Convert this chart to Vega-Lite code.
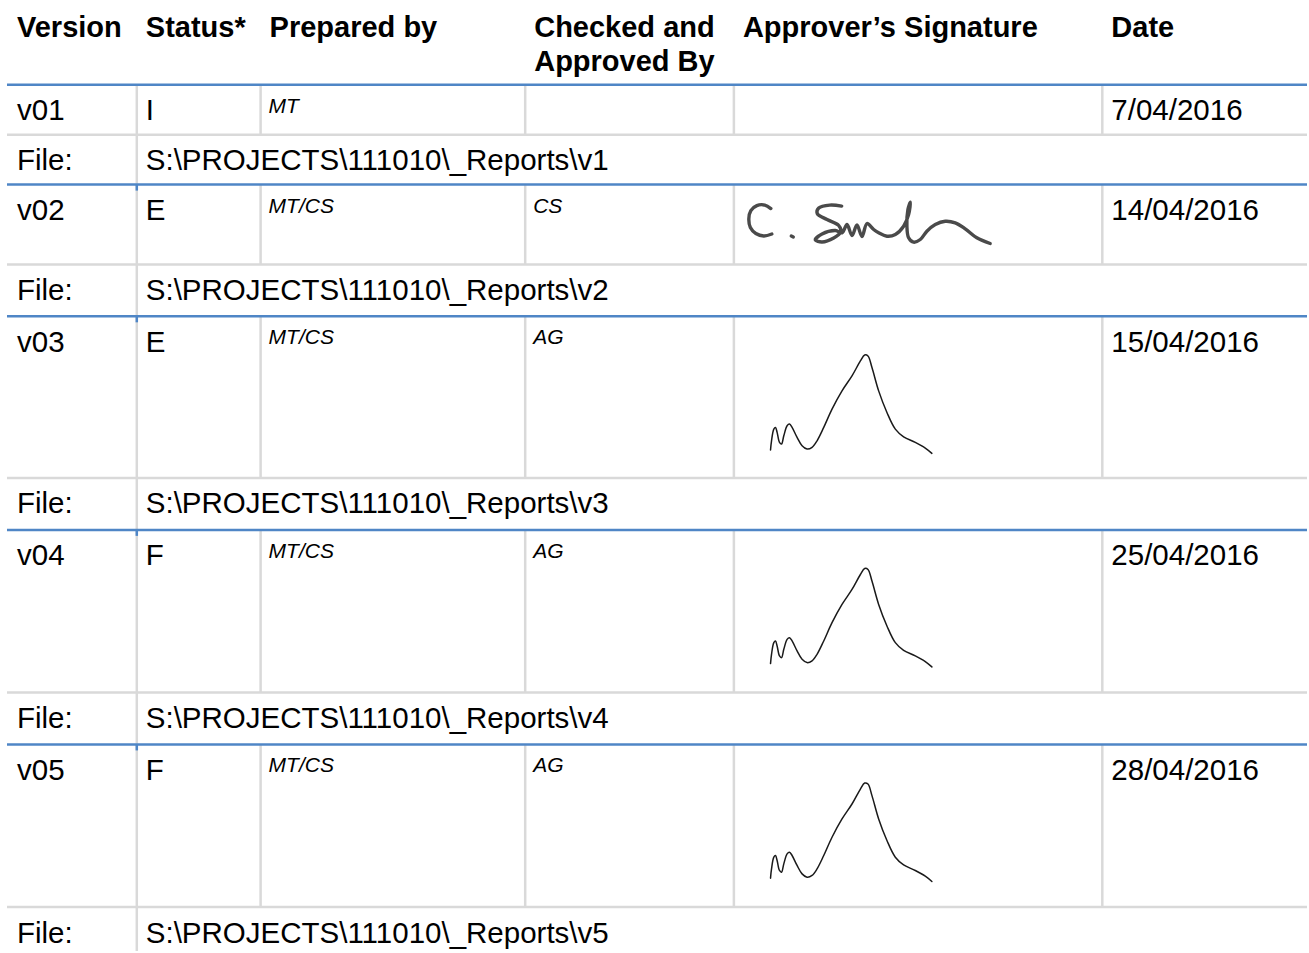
{
  "$schema": "https://vega.github.io/schema/vega-lite/v6.json",
  "width": 1309,
  "height": 953,
  "autosize": {"type": "fit", "contains": "padding"},
  "padding": 0,
  "background": "white",
  "config": {"view": {"stroke": null}, "text": {"font": "Liberation Sans", "color": "#000000"}},
  "datasets": {
    "rows": [
      {"row": "header", "kind": "header", "y0": 0, "y1": 85},
      {"row": "v01", "kind": "version", "y0": 85, "y1": 135},
      {"row": "f1", "kind": "file", "y0": 135, "y1": 185},
      {"row": "v02", "kind": "version", "y0": 185, "y1": 265},
      {"row": "f2", "kind": "file", "y0": 265, "y1": 317},
      {"row": "v03", "kind": "version", "y0": 317, "y1": 479},
      {"row": "f3", "kind": "file", "y0": 479, "y1": 531},
      {"row": "v04", "kind": "version", "y0": 531, "y1": 694},
      {"row": "f4", "kind": "file", "y0": 694, "y1": 746},
      {"row": "v05", "kind": "version", "y0": 746, "y1": 909},
      {"row": "f5", "kind": "file", "y0": 909, "y1": 953}
    ],
    "columns": [
      {"col": "Version", "x0": 8},
      {"col": "Status", "x0": 137},
      {"col": "Prepared", "x0": 261},
      {"col": "Checked", "x0": 526},
      {"col": "Signature", "x0": 735},
      {"col": "Date", "x0": 1104}
    ],
    "vlines": [
      {"row": "v01", "x": 137}, {"row": "v01", "x": 261}, {"row": "v01", "x": 526}, {"row": "v01", "x": 735}, {"row": "v01", "x": 1104},
      {"row": "v02", "x": 137}, {"row": "v02", "x": 261}, {"row": "v02", "x": 526}, {"row": "v02", "x": 735}, {"row": "v02", "x": 1104},
      {"row": "v03", "x": 137}, {"row": "v03", "x": 261}, {"row": "v03", "x": 526}, {"row": "v03", "x": 735}, {"row": "v03", "x": 1104},
      {"row": "v04", "x": 137}, {"row": "v04", "x": 261}, {"row": "v04", "x": 526}, {"row": "v04", "x": 735}, {"row": "v04", "x": 1104},
      {"row": "v05", "x": 137}, {"row": "v05", "x": 261}, {"row": "v05", "x": 526}, {"row": "v05", "x": 735}, {"row": "v05", "x": 1104},
      {"row": "f1", "x": 137}, {"row": "f2", "x": 137}, {"row": "f3", "x": 137}, {"row": "f4", "x": 137}, {"row": "f5", "x": 137}
    ],
    "ticks": [
      {"x": 137, "y": 185, "y2": 191},
      {"x": 137, "y": 317, "y2": 323},
      {"x": 137, "y": 531, "y2": 537},
      {"x": 137, "y": 746, "y2": 752}
    ],
    "cells": [
      {"row": "header", "col": "Version", "kind": "heading", "text": "Version"},
      {"row": "header", "col": "Status", "kind": "heading", "text": "Status*"},
      {"row": "header", "col": "Prepared", "kind": "heading", "text": "Prepared by"},
      {"row": "header", "col": "Checked", "kind": "heading", "text": "Checked and\nApproved By"},
      {"row": "header", "col": "Signature", "kind": "heading", "text": "Approver’s Signature"},
      {"row": "header", "col": "Date", "kind": "heading", "text": "Date"},
      {"row": "v01", "col": "Version", "kind": "value", "text": "v01"},
      {"row": "v01", "col": "Status", "kind": "value", "text": "I"},
      {"row": "v01", "col": "Prepared", "kind": "initials", "text": "MT"},
      {"row": "v01", "col": "Date", "kind": "value", "text": "7/04/2016"},
      {"row": "f1", "col": "Version", "kind": "value", "text": "File:"},
      {"row": "f1", "col": "Status", "kind": "value", "text": "S:\\PROJECTS\\111010\\_Reports\\v1"},
      {"row": "v02", "col": "Version", "kind": "value", "text": "v02"},
      {"row": "v02", "col": "Status", "kind": "value", "text": "E"},
      {"row": "v02", "col": "Prepared", "kind": "initials", "text": "MT/CS"},
      {"row": "v02", "col": "Checked", "kind": "initials", "text": "CS"},
      {"row": "v02", "col": "Date", "kind": "value", "text": "14/04/2016"},
      {"row": "f2", "col": "Version", "kind": "value", "text": "File:"},
      {"row": "f2", "col": "Status", "kind": "value", "text": "S:\\PROJECTS\\111010\\_Reports\\v2"},
      {"row": "v03", "col": "Version", "kind": "value", "text": "v03"},
      {"row": "v03", "col": "Status", "kind": "value", "text": "E"},
      {"row": "v03", "col": "Prepared", "kind": "initials", "text": "MT/CS"},
      {"row": "v03", "col": "Checked", "kind": "initials", "text": "AG"},
      {"row": "v03", "col": "Date", "kind": "value", "text": "15/04/2016"},
      {"row": "f3", "col": "Version", "kind": "value", "text": "File:"},
      {"row": "f3", "col": "Status", "kind": "value", "text": "S:\\PROJECTS\\111010\\_Reports\\v3"},
      {"row": "v04", "col": "Version", "kind": "value", "text": "v04"},
      {"row": "v04", "col": "Status", "kind": "value", "text": "F"},
      {"row": "v04", "col": "Prepared", "kind": "initials", "text": "MT/CS"},
      {"row": "v04", "col": "Checked", "kind": "initials", "text": "AG"},
      {"row": "v04", "col": "Date", "kind": "value", "text": "25/04/2016"},
      {"row": "f4", "col": "Version", "kind": "value", "text": "File:"},
      {"row": "f4", "col": "Status", "kind": "value", "text": "S:\\PROJECTS\\111010\\_Reports\\v4"},
      {"row": "v05", "col": "Version", "kind": "value", "text": "v05"},
      {"row": "v05", "col": "Status", "kind": "value", "text": "F"},
      {"row": "v05", "col": "Prepared", "kind": "initials", "text": "MT/CS"},
      {"row": "v05", "col": "Checked", "kind": "initials", "text": "AG"},
      {"row": "v05", "col": "Date", "kind": "value", "text": "28/04/2016"},
      {"row": "f5", "col": "Version", "kind": "value", "text": "File:"},
      {"row": "f5", "col": "Status", "kind": "value", "text": "S:\\PROJECTS\\111010\\_Reports\\v5"}
    ],
    "sig_cs": [
      {"s": "C", "i": 0, "x": 772, "y": 209}, {"s": "C", "i": 1, "x": 766, "y": 205.5}, {"s": "C", "i": 2, "x": 758, "y": 206},
      {"s": "C", "i": 3, "x": 752, "y": 211}, {"s": "C", "i": 4, "x": 750, "y": 219}, {"s": "C", "i": 5, "x": 751.5, "y": 228},
      {"s": "C", "i": 6, "x": 757, "y": 234}, {"s": "C", "i": 7, "x": 765, "y": 236.5}, {"s": "C", "i": 8, "x": 773, "y": 234.5},
      {"s": "dot", "i": 0, "x": 792.5, "y": 236.5}, {"s": "dot", "i": 1, "x": 794.5, "y": 237.5},
      {"s": "S", "i": 0, "x": 843, "y": 206.5}, {"s": "S", "i": 1, "x": 831, "y": 205.5}, {"s": "S", "i": 2, "x": 820, "y": 208.5},
      {"s": "S", "i": 3, "x": 818.5, "y": 214}, {"s": "S", "i": 4, "x": 828.3, "y": 220}, {"s": "S", "i": 5, "x": 840, "y": 226},
      {"s": "S", "i": 6, "x": 842, "y": 232.5}, {"s": "S", "i": 7, "x": 835, "y": 238.5}, {"s": "S", "i": 8, "x": 823.3, "y": 242.5},
      {"s": "S", "i": 9, "x": 816.5, "y": 240.5}, {"s": "S", "i": 10, "x": 823.3, "y": 234.5}, {"s": "S", "i": 11, "x": 836.7, "y": 231},
      {"s": "S", "i": 12, "x": 843.3, "y": 233.3}, {"s": "S", "i": 13, "x": 848.3, "y": 225}, {"s": "S", "i": 14, "x": 853.3, "y": 236},
      {"s": "S", "i": 15, "x": 858.3, "y": 225.5}, {"s": "S", "i": 16, "x": 863.3, "y": 237}, {"s": "S", "i": 17, "x": 868.3, "y": 224},
      {"s": "S", "i": 18, "x": 875, "y": 230}, {"s": "S", "i": 19, "x": 880, "y": 233.3}, {"s": "S", "i": 20, "x": 888.3, "y": 236.7},
      {"s": "S", "i": 21, "x": 896.7, "y": 235}, {"s": "S", "i": 22, "x": 905, "y": 226.7}, {"s": "S", "i": 23, "x": 910, "y": 215},
      {"s": "S", "i": 24, "x": 911.7, "y": 202.7}, {"s": "S", "i": 25, "x": 909.3, "y": 210}, {"s": "S", "i": 26, "x": 908.3, "y": 226.7},
      {"s": "S", "i": 27, "x": 910, "y": 238.3}, {"s": "S", "i": 28, "x": 915, "y": 242.7}, {"s": "S", "i": 29, "x": 921.7, "y": 240},
      {"s": "S", "i": 30, "x": 928.3, "y": 231.7}, {"s": "S", "i": 31, "x": 936.7, "y": 225}, {"s": "S", "i": 32, "x": 946.7, "y": 221.7},
      {"s": "S", "i": 33, "x": 956.7, "y": 223.3}, {"s": "S", "i": 34, "x": 966.7, "y": 229.3}, {"s": "S", "i": 35, "x": 978.3, "y": 238.3},
      {"s": "S", "i": 36, "x": 991.7, "y": 244}
    ],
    "sig_ag": [
      {"s": "v03", "i": 0, "x": 771.7, "y": 451}, {"s": "v03", "i": 1, "x": 772.7, "y": 441.7}, {"s": "v03", "i": 2, "x": 775, "y": 430},
      {"s": "v03", "i": 3, "x": 776.7, "y": 428.3}, {"s": "v03", "i": 4, "x": 778.3, "y": 433.3}, {"s": "v03", "i": 5, "x": 780.7, "y": 443.3},
      {"s": "v03", "i": 6, "x": 782.7, "y": 445}, {"s": "v03", "i": 7, "x": 785, "y": 436.7}, {"s": "v03", "i": 8, "x": 788.3, "y": 426.7},
      {"s": "v03", "i": 9, "x": 790.7, "y": 425}, {"s": "v03", "i": 10, "x": 793.3, "y": 428.3}, {"s": "v03", "i": 11, "x": 798.3, "y": 438.3},
      {"s": "v03", "i": 12, "x": 803.3, "y": 446.7}, {"s": "v03", "i": 13, "x": 808.3, "y": 450}, {"s": "v03", "i": 14, "x": 813.3, "y": 448.3},
      {"s": "v03", "i": 15, "x": 818.3, "y": 441.7}, {"s": "v03", "i": 16, "x": 825, "y": 428.3}, {"s": "v03", "i": 17, "x": 833.3, "y": 410},
      {"s": "v03", "i": 18, "x": 843.3, "y": 391.7}, {"s": "v03", "i": 19, "x": 853.3, "y": 376.7}, {"s": "v03", "i": 20, "x": 861.7, "y": 361.7},
      {"s": "v03", "i": 21, "x": 866, "y": 355.7}, {"s": "v03", "i": 22, "x": 869.3, "y": 356.7}, {"s": "v03", "i": 23, "x": 873.3, "y": 368.3},
      {"s": "v03", "i": 24, "x": 880, "y": 391.7}, {"s": "v03", "i": 25, "x": 888.3, "y": 413.3}, {"s": "v03", "i": 26, "x": 896.7, "y": 430},
      {"s": "v03", "i": 27, "x": 905, "y": 437.7}, {"s": "v03", "i": 28, "x": 916.7, "y": 443.3}, {"s": "v03", "i": 29, "x": 926.7, "y": 449},
      {"s": "v03", "i": 30, "x": 933.3, "y": 454.3},
      {"s": "v04", "i": 0, "x": 771.7, "y": 665}, {"s": "v04", "i": 1, "x": 772.7, "y": 655.7}, {"s": "v04", "i": 2, "x": 775, "y": 644},
      {"s": "v04", "i": 3, "x": 776.7, "y": 642.3}, {"s": "v04", "i": 4, "x": 778.3, "y": 647.3}, {"s": "v04", "i": 5, "x": 780.7, "y": 657.3},
      {"s": "v04", "i": 6, "x": 782.7, "y": 659}, {"s": "v04", "i": 7, "x": 785, "y": 650.7}, {"s": "v04", "i": 8, "x": 788.3, "y": 640.7},
      {"s": "v04", "i": 9, "x": 790.7, "y": 639}, {"s": "v04", "i": 10, "x": 793.3, "y": 642.3}, {"s": "v04", "i": 11, "x": 798.3, "y": 652.3},
      {"s": "v04", "i": 12, "x": 803.3, "y": 660.7}, {"s": "v04", "i": 13, "x": 808.3, "y": 664}, {"s": "v04", "i": 14, "x": 813.3, "y": 662.3},
      {"s": "v04", "i": 15, "x": 818.3, "y": 655.7}, {"s": "v04", "i": 16, "x": 825, "y": 642.3}, {"s": "v04", "i": 17, "x": 833.3, "y": 624},
      {"s": "v04", "i": 18, "x": 843.3, "y": 605.7}, {"s": "v04", "i": 19, "x": 853.3, "y": 590.7}, {"s": "v04", "i": 20, "x": 861.7, "y": 575.7},
      {"s": "v04", "i": 21, "x": 866, "y": 569.7}, {"s": "v04", "i": 22, "x": 869.3, "y": 570.7}, {"s": "v04", "i": 23, "x": 873.3, "y": 582.3},
      {"s": "v04", "i": 24, "x": 880, "y": 605.7}, {"s": "v04", "i": 25, "x": 888.3, "y": 627.3}, {"s": "v04", "i": 26, "x": 896.7, "y": 644},
      {"s": "v04", "i": 27, "x": 905, "y": 651.7}, {"s": "v04", "i": 28, "x": 916.7, "y": 657.3}, {"s": "v04", "i": 29, "x": 926.7, "y": 663},
      {"s": "v04", "i": 30, "x": 933.3, "y": 668.3},
      {"s": "v05", "i": 0, "x": 771.7, "y": 880}, {"s": "v05", "i": 1, "x": 772.7, "y": 870.7}, {"s": "v05", "i": 2, "x": 775, "y": 859},
      {"s": "v05", "i": 3, "x": 776.7, "y": 857.3}, {"s": "v05", "i": 4, "x": 778.3, "y": 862.3}, {"s": "v05", "i": 5, "x": 780.7, "y": 872.3},
      {"s": "v05", "i": 6, "x": 782.7, "y": 874}, {"s": "v05", "i": 7, "x": 785, "y": 865.7}, {"s": "v05", "i": 8, "x": 788.3, "y": 855.7},
      {"s": "v05", "i": 9, "x": 790.7, "y": 854}, {"s": "v05", "i": 10, "x": 793.3, "y": 857.3}, {"s": "v05", "i": 11, "x": 798.3, "y": 867.3},
      {"s": "v05", "i": 12, "x": 803.3, "y": 875.7}, {"s": "v05", "i": 13, "x": 808.3, "y": 879}, {"s": "v05", "i": 14, "x": 813.3, "y": 877.3},
      {"s": "v05", "i": 15, "x": 818.3, "y": 870.7}, {"s": "v05", "i": 16, "x": 825, "y": 857.3}, {"s": "v05", "i": 17, "x": 833.3, "y": 839},
      {"s": "v05", "i": 18, "x": 843.3, "y": 820.7}, {"s": "v05", "i": 19, "x": 853.3, "y": 805.7}, {"s": "v05", "i": 20, "x": 861.7, "y": 790.7},
      {"s": "v05", "i": 21, "x": 866, "y": 784.7}, {"s": "v05", "i": 22, "x": 869.3, "y": 785.7}, {"s": "v05", "i": 23, "x": 873.3, "y": 797.3},
      {"s": "v05", "i": 24, "x": 880, "y": 820.7}, {"s": "v05", "i": 25, "x": 888.3, "y": 842.3}, {"s": "v05", "i": 26, "x": 896.7, "y": 859},
      {"s": "v05", "i": 27, "x": 905, "y": 866.7}, {"s": "v05", "i": 28, "x": 916.7, "y": 872.3}, {"s": "v05", "i": 29, "x": 926.7, "y": 878},
      {"s": "v05", "i": 30, "x": 933.3, "y": 883.3}
    ]
  },
  "layer": [
    {
      "data": {"name": "vlines"},
      "transform": [
        {"lookup": "row", "from": {"data": {"name": "rows"}, "key": "row", "fields": ["y0", "y1"]}}
      ],
      "mark": {"type": "rule", "color": "#d9d9d9", "strokeWidth": 2.5},
      "encoding": {
        "x": {"field": "x", "type": "quantitative", "scale": {"domain": [0, 1309], "nice": false, "zero": false}, "axis": null},
        "y": {"field": "y0", "type": "quantitative", "scale": {"domain": [0, 953], "nice": false, "zero": false, "reverse": true}, "axis": null},
        "y2": {"field": "y1"}
      }
    },
    {
      "data": {"name": "ticks"},
      "mark": {"type": "rule", "color": "#4f86c6", "strokeWidth": 2.5},
      "encoding": {
        "x": {"field": "x", "type": "quantitative", "scale": {"domain": [0, 1309], "nice": false, "zero": false}, "axis": null},
        "y": {"field": "y", "type": "quantitative", "scale": {"domain": [0, 953], "nice": false, "zero": false, "reverse": true}, "axis": null},
        "y2": {"field": "y2"}
      }
    },
    {
      "data": {"name": "rows"},
      "transform": [{"filter": "datum.kind !== 'header'"}],
      "mark": {"type": "rule", "strokeWidth": 2.5},
      "encoding": {
        "x": {"datum": 7, "type": "quantitative", "scale": {"domain": [0, 1309], "nice": false, "zero": false}, "axis": null},
        "x2": {"datum": 1309},
        "y": {"field": "y0", "type": "quantitative", "scale": {"domain": [0, 953], "nice": false, "zero": false, "reverse": true}, "axis": null},
        "color": {"field": "kind", "type": "nominal", "scale": {"domain": ["version", "file"], "range": ["#4f86c6", "#d9d9d9"]}, "legend": null}
      }
    },
    {
      "data": {"name": "cells"},
      "transform": [
        {"filter": "datum.kind === 'heading'"},
        {"lookup": "col", "from": {"data": {"name": "columns"}, "key": "col", "fields": ["x0"]}},
        {"lookup": "row", "from": {"data": {"name": "rows"}, "key": "row", "fields": ["y0"]}}
      ],
      "mark": {"type": "text", "align": "left", "baseline": "alphabetic", "fontSize": 29, "fontWeight": "bold", "dx": 9, "dy": 37, "lineBreak": "\n", "lineHeight": 34},
      "encoding": {
        "x": {"field": "x0", "type": "quantitative", "scale": {"domain": [0, 1309], "nice": false, "zero": false}, "axis": null},
        "y": {"field": "y0", "type": "quantitative", "scale": {"domain": [0, 953], "nice": false, "zero": false, "reverse": true}, "axis": null},
        "text": {"field": "text", "type": "nominal"}
      }
    },
    {
      "data": {"name": "cells"},
      "transform": [
        {"filter": "datum.kind === 'value'"},
        {"lookup": "col", "from": {"data": {"name": "columns"}, "key": "col", "fields": ["x0"]}},
        {"lookup": "row", "from": {"data": {"name": "rows"}, "key": "row", "fields": ["y0"]}}
      ],
      "mark": {"type": "text", "align": "left", "baseline": "alphabetic", "fontSize": 29.5, "dx": 9, "dy": 35.5},
      "encoding": {
        "x": {"field": "x0", "type": "quantitative", "scale": {"domain": [0, 1309], "nice": false, "zero": false}, "axis": null},
        "y": {"field": "y0", "type": "quantitative", "scale": {"domain": [0, 953], "nice": false, "zero": false, "reverse": true}, "axis": null},
        "text": {"field": "text", "type": "nominal"}
      }
    },
    {
      "data": {"name": "cells"},
      "transform": [
        {"filter": "datum.kind === 'initials'"},
        {"lookup": "col", "from": {"data": {"name": "columns"}, "key": "col", "fields": ["x0"]}},
        {"lookup": "row", "from": {"data": {"name": "rows"}, "key": "row", "fields": ["y0"]}}
      ],
      "mark": {"type": "text", "align": "left", "baseline": "alphabetic", "fontSize": 21, "fontStyle": "italic", "dx": 8, "dy": 28},
      "encoding": {
        "x": {"field": "x0", "type": "quantitative", "scale": {"domain": [0, 1309], "nice": false, "zero": false}, "axis": null},
        "y": {"field": "y0", "type": "quantitative", "scale": {"domain": [0, 953], "nice": false, "zero": false, "reverse": true}, "axis": null},
        "text": {"field": "text", "type": "nominal"}
      }
    },
    {
      "data": {"name": "sig_cs"},
      "mark": {"type": "line", "interpolate": "catmull-rom", "color": "#4a4a4a", "strokeWidth": 3.4, "strokeCap": "round", "strokeJoin": "round"},
      "encoding": {
        "x": {"field": "x", "type": "quantitative", "scale": {"domain": [0, 1309], "nice": false, "zero": false}, "axis": null},
        "y": {"field": "y", "type": "quantitative", "scale": {"domain": [0, 953], "nice": false, "zero": false, "reverse": true}, "axis": null},
        "detail": {"field": "s", "type": "nominal"},
        "order": {"field": "i", "type": "quantitative"}
      }
    },
    {
      "data": {"name": "sig_ag"},
      "mark": {"type": "line", "interpolate": "catmull-rom", "color": "#1a1a1a", "strokeWidth": 1.5, "strokeCap": "round", "strokeJoin": "round"},
      "encoding": {
        "x": {"field": "x", "type": "quantitative", "scale": {"domain": [0, 1309], "nice": false, "zero": false}, "axis": null},
        "y": {"field": "y", "type": "quantitative", "scale": {"domain": [0, 953], "nice": false, "zero": false, "reverse": true}, "axis": null},
        "detail": {"field": "s", "type": "nominal"},
        "order": {"field": "i", "type": "quantitative"}
      }
    }
  ]
}
